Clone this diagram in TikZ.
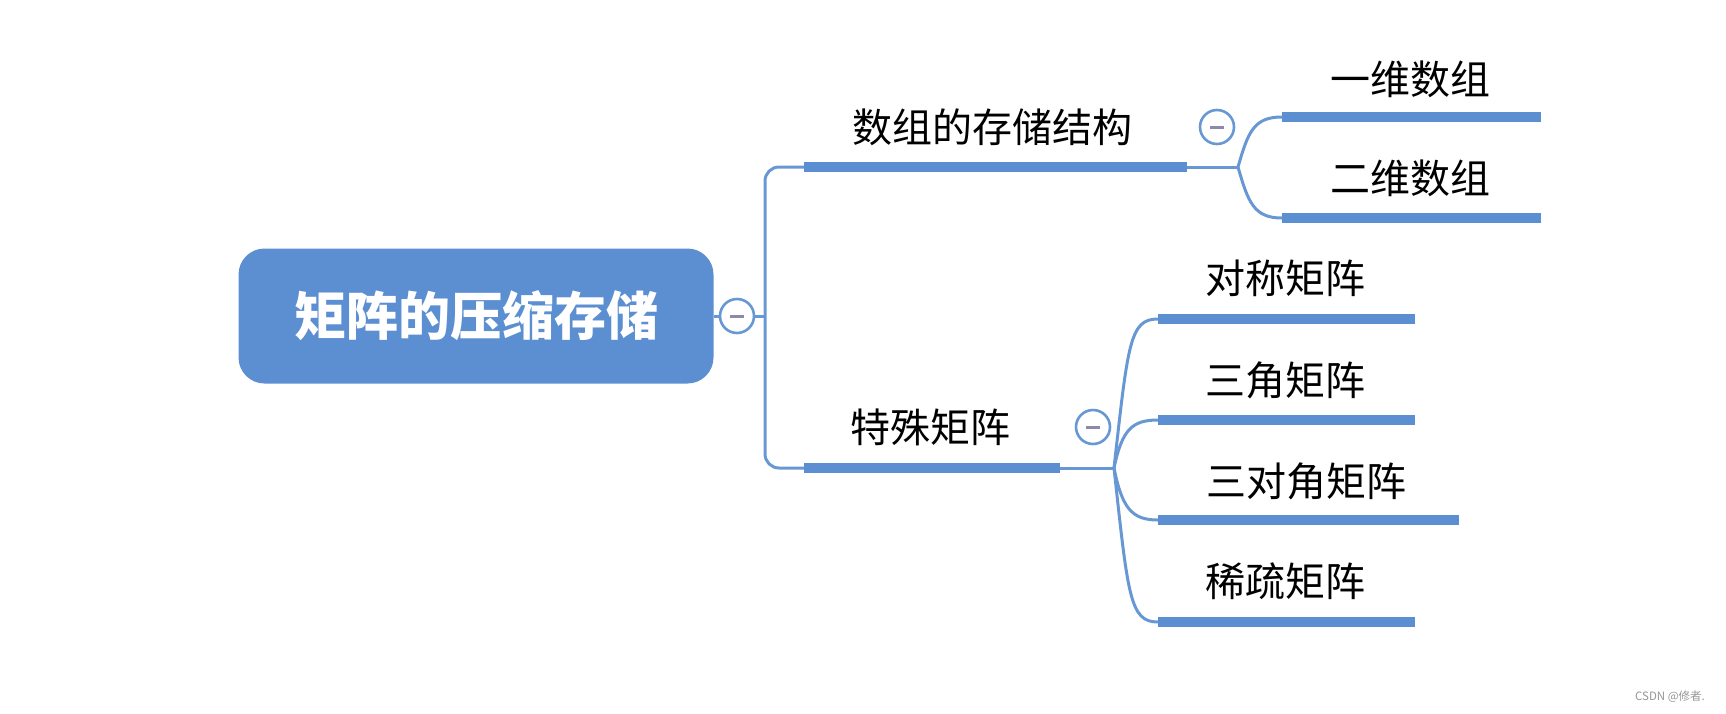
\documentclass[tikz,border=0pt]{standalone}
\usepackage{fontspec}
\setmainfont{Noto Sans CJK SC}
\definecolor{mblue}{RGB}{92,143,209}
\definecolor{lblue}{RGB}{104,152,212}
\definecolor{minusc}{RGB}{140,138,170}
\definecolor{wm}{RGB}{150,150,150}
\tikzset{
  rootbox/.style={draw=none, fill=mblue, rounded corners=26pt, minimum width=475pt, minimum height=135pt, inner sep=0pt, text=white, font=\fontsize{52}{60}\selectfont\bfseries},
  barbox/.style={draw=none, fill=mblue, minimum height=10pt, inner sep=0pt},
  lbl/.style={inner sep=0pt, text=black, font=\fontsize{40}{48}\selectfont},
  conn/.style={draw=lblue, line width=3pt},
  collapse/.style={circle, draw=lblue, line width=2.6pt, fill=white, minimum size=34pt, inner sep=0pt},
}
\newcommand{\minusmark}[1]{\draw[minusc, line width=3pt] ($(#1)+(-7,0)$) -- ($(#1)+(7,0)$);}
\usetikzlibrary{calc}
\begin{document}
\begin{tikzpicture}[x=1pt, y=-1pt]
\useasboundingbox (0,0) rectangle (1726,713);
% root
\node[rootbox] (root) at (476,316) {矩阵的压缩存储};
% bars
\node[barbox, minimum width=383pt] (b1) at (995.5,167) {};
\node[barbox, minimum width=256pt] (b2) at (932,468) {};
\node[barbox, minimum width=259pt] (b11) at (1411.5,117) {};
\node[barbox, minimum width=259pt] (b12) at (1411.5,218) {};
\node[barbox, minimum width=257pt] (b21) at (1286.5,319) {};
\node[barbox, minimum width=257pt] (b22) at (1286.5,420) {};
\node[barbox, minimum width=301pt] (b23) at (1308.5,520) {};
\node[barbox, minimum width=257pt] (b24) at (1286.5,622) {};
% labels
\node[lbl] (t1) at (992,127) {数组的存储结构};
\node[lbl] (t2) at (930,427) {特殊矩阵};
\node[lbl] (t11) at (1410,79) {一维数组};
\node[lbl] (t12) at (1410,178) {二维数组};
\node[lbl] (t21) at (1285,278) {对称矩阵};
\node[lbl] (t22) at (1285,380) {三角矩阵};
\node[lbl] (t23) at (1306,481) {三对角矩阵};
\node[lbl] (t24) at (1285,581) {稀疏矩阵};
% fork coordinates
\coordinate (f0) at (765,316);
\coordinate (f1) at (1238,167);
\coordinate (f2) at (1114,468);
% connectors
\node[collapse] (c0) at (737,316) {};
\draw[conn] (root.east) -- (c0.west);
\draw[conn] (c0.east) -- (f0);
\draw[conn, rounded corners=14pt] (b1.west) -| (f0) |- (b2.west);
\draw[conn] (b1.east) -- (f1);
\draw[conn] (f1) .. controls +(10,-35) and +(-28,0) .. (b11.west);
\draw[conn] (f1) .. controls +(10,35) and +(-28,0) .. (b12.west);
\draw[conn] (b2.east) -- (f2);
\draw[conn] (f2) .. controls +(14,-125) and +(-28,0) .. (b21.west);
\draw[conn] (f2) .. controls +(8,-38) and +(-26,0) .. (b22.west);
\draw[conn] (f2) .. controls +(8,40) and +(-26,0) .. (b23.west);
\draw[conn] (f2) .. controls +(14,128) and +(-28,0) .. (b24.west);
% collapse markers
\node[collapse] (c1) at (1217,127) {};
\node[collapse] (c2) at (1093,427) {};
\minusmark{c0}
\minusmark{c1}
\minusmark{c2}
% watermark
\node[inner sep=0pt, text=wm, font=\fontsize{11.5}{13}\selectfont] (wmk) at (1670,697) {CSDN @修者.};
\end{tikzpicture}
\end{document}
